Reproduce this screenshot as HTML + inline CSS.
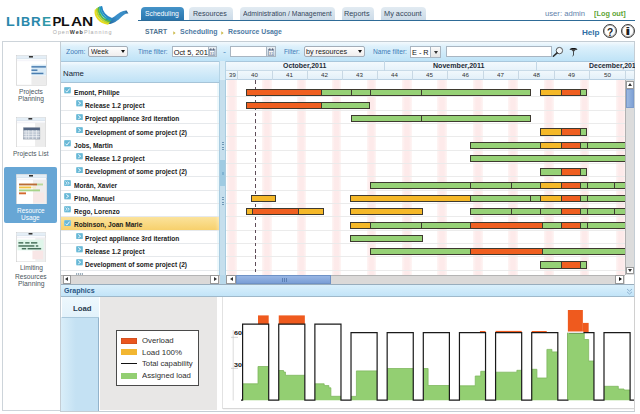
<!DOCTYPE html><html><head><meta charset="utf-8"><style>
*{margin:0;padding:0;box-sizing:border-box}
html,body{width:640px;height:414px;overflow:hidden;background:#fff;font-family:"Liberation Sans", sans-serif;}
.ab{position:absolute}
.t{position:absolute;white-space:nowrap;line-height:1}
</style></head><body>
<div class="t" style="left:6.14px;top:15.00px;font-size:13.3px;font-weight:bold;color:#2a88ab;transform:scaleX(1.0710);transform-origin:0 0;">L</div>
<div class="t" style="left:16.02px;top:15.00px;font-size:13.3px;font-weight:bold;color:#2a88ab;transform:scaleX(1.0889);transform-origin:0 0;">I</div>
<div class="t" style="left:21.05px;top:15.00px;font-size:13.3px;font-weight:bold;color:#2a88ab;transform:scaleX(0.9491);transform-origin:0 0;">B</div>
<div class="t" style="left:31.30px;top:15.00px;font-size:13.3px;font-weight:bold;color:#2a88ab;transform:scaleX(1.0065);transform-origin:0 0;">R</div>
<div class="t" style="left:41.98px;top:15.00px;font-size:13.3px;font-weight:bold;color:#2f98a8;transform:scaleX(1.0204);transform-origin:0 0;">E</div>
<div class="t" style="left:52.40px;top:15.00px;font-size:13.3px;font-weight:bold;color:#111;">P</div>
<div class="t" style="left:61.25px;top:15.00px;font-size:13.3px;font-weight:bold;color:#111;transform:scaleX(1.0563);transform-origin:0 0;">L</div>
<div class="t" style="left:70.51px;top:15.00px;font-size:13.3px;font-weight:bold;color:#111;transform:scaleX(1.1615);transform-origin:0 0;">A</div>
<div class="t" style="left:82.05px;top:15.00px;font-size:13.3px;font-weight:bold;color:#111;transform:scaleX(1.1646);transform-origin:0 0;">N</div>
<div class="t" style="left:52.74px;top:30.00px;font-size:5.4px;color:#000;letter-spacing:0.95px;"><span style="color:#a9a9a9">Open</span><span style="color:#3a3a3a;font-weight:bold">Web</span><span style="color:#a9a9a9">Planning</span></div>
<svg class="ab" style="left:88px;top:2px" width="44" height="26" viewBox="88 2 44 26">
<defs><linearGradient id="bg2" gradientUnits="userSpaceOnUse" x1="108" y1="22" x2="128" y2="11">
<stop offset="0" stop-color="#22679e"/><stop offset="0.45" stop-color="#3a90cc"/><stop offset="0.85" stop-color="#3a8cc4"/><stop offset="1" stop-color="#1f4f78"/></linearGradient></defs>
<path d="M106 23.9 C112 25 117 21.5 121.6 16.8 C123.8 14.6 125.8 13.2 128.4 13.6 L126.6 10.6 C122.4 10.4 118.4 13.4 114.4 16.4 C111.4 18.6 108.4 19.4 105 18.4 Z" fill="url(#bg2)"/>
<g fill="none" stroke-width="1.9" stroke-linecap="round">
<path d="M95.6 10.2 C94.6 16.5 99.6 22.6 108 23.7" stroke="#e8dc1c"/>
<path d="M97 8.9 C96.4 15 100.8 21.2 108.8 22.5" stroke="#bcd22a"/>
<path d="M98.5 7.9 C98.1 13.8 102.2 19.8 109.6 21.2" stroke="#5ab848"/>
<path d="M100 7.2 C99.9 12.6 103.7 18.4 110.6 20" stroke="#22a0b8"/>
<path d="M101.5 7 C101.7 11.5 105.2 17 111.8 18.8" stroke="#2a86c6"/>
</g>
</svg>
<div class="ab" style="left:141.2px;top:6.6px;width:42.60px;height:13.60px;background:linear-gradient(#4593c8,#2a76ae);border-radius:4px 4px 0 0;"></div>
<div class="t" style="left:144.69px;top:10.00px;font-size:7px;color:#fff;transform:scaleX(0.9740);transform-origin:0 0;">Scheduling</div>
<div class="ab" style="left:189.2px;top:7.1px;width:43.80px;height:13.10px;background:linear-gradient(#e2ebf2,#ccdbe8);border-radius:4px 4px 0 0;"></div>
<div class="t" style="left:192.52px;top:10.00px;font-size:7px;color:#34465a;transform:scaleX(1.0080);transform-origin:0 0;">Resources</div>
<div class="ab" style="left:239.7px;top:7.1px;width:95.30px;height:13.10px;background:linear-gradient(#e2ebf2,#ccdbe8);border-radius:4px 4px 0 0;"></div>
<div class="t" style="left:242.98px;top:10.00px;font-size:7px;color:#34465a;transform:scaleX(0.9727);transform-origin:0 0;">Administration / Management</div>
<div class="ab" style="left:341.6px;top:7.1px;width:32.80px;height:13.10px;background:linear-gradient(#e2ebf2,#ccdbe8);border-radius:4px 4px 0 0;"></div>
<div class="t" style="left:344.30px;top:10.00px;font-size:7px;color:#34465a;transform:scaleX(1.0424);transform-origin:0 0;">Reports</div>
<div class="ab" style="left:381px;top:7.1px;width:44.80px;height:13.10px;background:linear-gradient(#e2ebf2,#ccdbe8);border-radius:4px 4px 0 0;"></div>
<div class="t" style="left:383.89px;top:10.00px;font-size:7px;color:#34465a;transform:scaleX(1.0524);transform-origin:0 0;">My account</div>
<div class="ab" style="left:138px;top:19.6px;width:497.30px;height:1.40px;background:#2e6b97;"></div>
<div class="t" style="left:145.41px;top:28.00px;font-size:7px;font-weight:bold;color:#4f7390;transform:scaleX(0.9668);transform-origin:0 0;">START</div>
<svg class="ab" style="left:172.8px;top:30.6px" width="3" height="4" viewBox="0 0 3 4"><path d="M0.3 0.3 L2.6 2 L0.3 3.7Z" fill="#c9b640"/></svg>
<div class="t" style="left:180.21px;top:28.00px;font-size:7px;font-weight:bold;color:#4d7aa3;transform:scaleX(0.9955);transform-origin:0 0;">Scheduling</div>
<svg class="ab" style="left:220.6px;top:30.6px" width="3" height="4" viewBox="0 0 3 4"><path d="M0.3 0.3 L2.6 2 L0.3 3.7Z" fill="#c9b640"/></svg>
<div class="t" style="left:228.04px;top:28.00px;font-size:7px;font-weight:bold;color:#4d7aa3;transform:scaleX(0.9825);transform-origin:0 0;">Resource Usage</div>
<div class="t" style="left:544.70px;top:10.00px;font-size:7px;color:#5f83ab;transform:scaleX(1.0935);transform-origin:0 0;">user: admin</div>
<div class="t" style="left:594.30px;top:10.00px;font-size:7px;font-weight:bold;color:#5ea534;transform:scaleX(1.0460);transform-origin:0 0;">[Log out]</div>
<div class="t" style="left:582.45px;top:30.00px;font-size:6.8px;font-weight:bold;color:#2f6ea5;transform:scaleX(1.1936);transform-origin:0 0;">Help</div>
<div class="ab" style="left:602.8px;top:24.4px;width:14.1px;height:14.1px;border:1.9px solid #3c3c3c;border-radius:50%;background:radial-gradient(circle at 45% 40%,#fff 45%,#d8d8d8);box-shadow:inset 0 0 0 0.6px #9a9a9a"></div>
<div class="ab" style="left:621.1px;top:24.4px;width:14.1px;height:14.1px;border:1.9px solid #3c3c3c;border-radius:50%;background:radial-gradient(circle at 45% 40%,#fff 45%,#d8d8d8);box-shadow:inset 0 0 0 0.6px #9a9a9a"></div>
<div class="t" style="left:606.94px;top:27.00px;font-size:10.5px;font-weight:bold;color:#1e1e1e;transform:scaleX(0.9711);transform-origin:0 0;">?</div>
<div class="t" style="left:624.87px;top:26.00px;font-size:10.5px;font-weight:bold;color:#1e1e1e;transform:scaleX(1.9394);transform-origin:0 0;">i</div>
<div class="ab" style="left:2px;top:41.1px;width:59.00px;height:370.30px;border:1px solid #cdd4da;background:#fff;"></div>
<div class="ab" style="left:4.2px;top:166.9px;width:52.90px;height:55.90px;background:#67a6d5;border-radius:2px;"></div>
<svg class="ab" style="left:16.2px;top:55.2px" width="30.9" height="30.5" viewBox="0 0 31 31" preserveAspectRatio="none"><rect x="0.3" y="0.3" width="30.4" height="30.4" fill="#fff" stroke="#c8c8c8" stroke-width="0.6"/><rect x="0.6" y="0.6" width="29.8" height="3.2" fill="#e4eef6"/><rect x="13" y="1" width="4" height="1.6" fill="#333"/><line x1="0.6" y1="3.8" x2="30.4" y2="3.8" stroke="#bcd" stroke-width="0.4"/><line x1="0.6" y1="5.8" x2="30.4" y2="5.8" stroke="#dde" stroke-width="0.4"/><rect x="15.5" y="21" width="14.9" height="9.4" fill="#ececec"/><rect x="15.5" y="9.8" width="14.9" height="11" fill="#d9eaf6"/><rect x="15.5" y="11.3" width="14.5" height="1.5" fill="#4a7db0"/><rect x="15.5" y="14.7" width="6" height="1.5" fill="#4a7db0"/><rect x="15.5" y="18" width="12" height="1.5" fill="#4a7db0"/></svg>
<svg class="ab" style="left:16px;top:117px" width="29.6" height="30.4" viewBox="0 0 31 31" preserveAspectRatio="none"><rect x="0.3" y="0.3" width="30.4" height="30.4" fill="#fff" stroke="#c8c8c8" stroke-width="0.6"/><rect x="0.6" y="0.6" width="29.8" height="3.2" fill="#e4eef6"/><rect x="13" y="1" width="4" height="1.6" fill="#333"/><line x1="0.6" y1="3.8" x2="30.4" y2="3.8" stroke="#bcd" stroke-width="0.4"/><line x1="0.6" y1="5.8" x2="30.4" y2="5.8" stroke="#dde" stroke-width="0.4"/><rect x="20" y="6" width="10.4" height="24.4" fill="#ececec"/><rect x="8" y="11" width="17" height="11.5" fill="#b9c3d0" stroke="#7a8594" stroke-width="0.5"/><rect x="8" y="11" width="17" height="2.4" fill="#536582"/><line x1="8" y1="15.2" x2="25" y2="15.2" stroke="#f4f6f8" stroke-width="0.7"/><line x1="8" y1="17.6" x2="25" y2="17.6" stroke="#f4f6f8" stroke-width="0.7"/><line x1="8" y1="20" x2="25" y2="20" stroke="#f4f6f8" stroke-width="0.7"/><line x1="10.6" y1="13.4" x2="10.6" y2="22.5" stroke="#f4f6f8" stroke-width="0.7"/><line x1="13.4" y1="13.4" x2="13.4" y2="22.5" stroke="#f4f6f8" stroke-width="0.7"/><line x1="17.6" y1="13.4" x2="17.6" y2="22.5" stroke="#f4f6f8" stroke-width="0.7"/><line x1="21.4" y1="13.4" x2="21.4" y2="22.5" stroke="#f4f6f8" stroke-width="0.7"/></svg>
<svg class="ab" style="left:16px;top:173.5px" width="31.0" height="30.5" viewBox="0 0 31 31" preserveAspectRatio="none"><rect x="0.3" y="0.3" width="30.4" height="30.4" fill="#fff" stroke="#c8c8c8" stroke-width="0.6"/><rect x="0.6" y="0.6" width="29.8" height="3.2" fill="#e4eef6"/><rect x="13" y="1" width="4" height="1.6" fill="#333"/><line x1="0.6" y1="3.8" x2="30.4" y2="3.8" stroke="#bcd" stroke-width="0.4"/><line x1="0.6" y1="5.8" x2="30.4" y2="5.8" stroke="#dde" stroke-width="0.4"/><rect x="17" y="6" width="13.4" height="24.4" fill="#efeded"/><rect x="17" y="19" width="11" height="10" fill="#f7e8e6"/><rect x="3" y="9.7" width="18" height="1.9" fill="#b96c34"/><rect x="21" y="9.7" width="6" height="1.9" fill="#b9d99a"/><rect x="3" y="12.7" width="12" height="1.9" fill="#f0c244"/><rect x="15" y="12.7" width="5" height="1.9" fill="#f6ecc4"/><rect x="3" y="15.7" width="21" height="1.9" fill="#a6d488"/><rect x="3" y="18.7" width="7" height="1.9" fill="#d4692e"/></svg>
<svg class="ab" style="left:16.4px;top:232px" width="30.0" height="30.2" viewBox="0 0 31 31" preserveAspectRatio="none"><rect x="0.3" y="0.3" width="30.4" height="30.4" fill="#fff" stroke="#c8c8c8" stroke-width="0.6"/><rect x="0.6" y="0.6" width="29.8" height="3.2" fill="#e4eef6"/><rect x="13" y="1" width="4" height="1.6" fill="#333"/><line x1="0.6" y1="3.8" x2="30.4" y2="3.8" stroke="#bcd" stroke-width="0.4"/><line x1="0.6" y1="5.8" x2="30.4" y2="5.8" stroke="#dde" stroke-width="0.4"/><rect x="20" y="6" width="10.4" height="24.4" fill="#efefef"/><rect x="17" y="19" width="11" height="9" fill="#f8e6e6"/><rect x="1.5" y="7.8" width="27" height="11" fill="#dff6ea"/><rect x="2.5" y="10.4" width="5" height="1.5" fill="#46705a"/><rect x="9.5" y="10.4" width="4.5" height="1.5" fill="#46705a"/><rect x="15.5" y="10.4" width="6.5" height="1.5" fill="#46705a"/><rect x="2.5" y="13.6" width="16.5" height="1.5" fill="#46705a"/><rect x="20.5" y="13.6" width="2.5" height="1.5" fill="#46705a"/><rect x="6" y="16.4" width="4.5" height="1.5" fill="#46705a"/><rect x="12" y="16.4" width="14" height="1.5" fill="#46705a"/></svg>
<div class="t" style="left:19.15px;top:89.00px;font-size:6.4px;color:#4c5660;transform:scaleX(1.0327);transform-origin:0 0;">Projects</div>
<div class="t" style="left:18.35px;top:96.00px;font-size:6.4px;color:#4c5660;transform:scaleX(1.0431);transform-origin:0 0;">Planning</div>
<div class="t" style="left:12.66px;top:151.00px;font-size:6.4px;color:#4c5660;transform:scaleX(1.0183);transform-origin:0 0;">Projects List</div>
<div class="t" style="left:16.67px;top:208.00px;font-size:6.4px;color:#fff;transform:scaleX(1.0122);transform-origin:0 0;">Resource</div>
<div class="t" style="left:21.20px;top:215.00px;font-size:6.4px;color:#fff;transform:scaleX(1.0097);transform-origin:0 0;">Usage</div>
<div class="t" style="left:19.55px;top:265.00px;font-size:6.4px;color:#4c5660;transform:scaleX(1.0369);transform-origin:0 0;">Limiting</div>
<div class="t" style="left:15.25px;top:274.00px;font-size:6.4px;color:#4c5660;transform:scaleX(1.0355);transform-origin:0 0;">Resources</div>
<div class="t" style="left:17.94px;top:281.00px;font-size:6.4px;color:#4c5660;transform:scaleX(1.0681);transform-origin:0 0;">Planning</div>
<div class="ab" style="left:60px;top:41.1px;width:575.30px;height:370.50px;border:1px solid #c4cdd4;background:#fff;"></div>
<div class="ab" style="left:61px;top:41.6px;width:573.30px;height:19.00px;background:linear-gradient(#f3f9fd,#dcf0fb 25%,#bfe3f7);"></div>
<div class="t" style="left:65.59px;top:48.00px;font-size:7px;color:#3d7cb8;transform:scaleX(0.9796);transform-origin:0 0;">Zoom:</div>
<div class="ab" style="left:88.3px;top:46.2px;width:39.90px;height:10.90px;background:linear-gradient(#fefefe,#f0eeee);border:1px solid #a3adb8;border-radius:2px;"></div>
<div class="t" style="left:91.47px;top:48.00px;font-size:7px;color:#1a1a1a;transform:scaleX(0.9804);transform-origin:0 0;">Week</div>
<div class="ab" style="left:120.9px;top:50px;width:0;height:0;border-top:3.8px solid #111;border-left:2.3px solid transparent;border-right:2.3px solid transparent"></div>
<div class="t" style="left:137.66px;top:48.00px;font-size:7px;color:#3d7cb8;transform:scaleX(0.9127);transform-origin:0 0;">Time filter:</div>
<div class="ab" style="left:172.3px;top:46px;width:35.70px;height:11.40px;background:#fff;border:1px solid #a9b6c2;border-right:none;"></div>
<div class="ab" style="left:172.3px;top:46px;width:35.7px;height:11.4px;overflow:hidden">
<div class="t" style="left:1.35px;top:2.71px;font-size:7.4px;color:#111">Oct 5, 2011</div>
</div>
<div class="ab" style="left:208px;top:46px;width:8.70px;height:11.40px;background:linear-gradient(#e9eff4,#cbd7e1);border:1px solid #a9b6c2;"></div>
<svg class="ab" style="left:209.2px;top:47.6px" width="6.4" height="8" viewBox="0 0 6.4 8"><rect x="0.5" y="1.3" width="5.4" height="6.3" fill="#f4f6f8" stroke="#7186a0" stroke-width="0.6"/><rect x="0.5" y="1.3" width="5.4" height="1.5" fill="#8a9cb4"/><line x1="1.8" y1="0.2" x2="1.8" y2="2.2" stroke="#445" stroke-width="0.7"/><line x1="4.6" y1="0.2" x2="4.6" y2="2.2" stroke="#445" stroke-width="0.7"/><text x="3.2" y="6.9" font-size="3.8" text-anchor="middle" fill="#4a5a78" font-family="Liberation Sans">31</text></svg>
<div class="t" style="left:223.20px;top:48.00px;font-size:7px;color:#3d7cb8;transform:scaleX(1.2828);transform-origin:0 0;">-</div>
<div class="ab" style="left:229.7px;top:46px;width:36.00px;height:11.40px;background:#fff;border:1px solid #a9b6c2;border-right:none;"></div>
<div class="ab" style="left:265.7px;top:46px;width:10.30px;height:11.40px;background:linear-gradient(#e9eff4,#cbd7e1);border:1px solid #a9b6c2;"></div>
<svg class="ab" style="left:267.7px;top:47.6px" width="6.4" height="8" viewBox="0 0 6.4 8"><rect x="0.5" y="1.3" width="5.4" height="6.3" fill="#f4f6f8" stroke="#7186a0" stroke-width="0.6"/><rect x="0.5" y="1.3" width="5.4" height="1.5" fill="#8a9cb4"/><line x1="1.8" y1="0.2" x2="1.8" y2="2.2" stroke="#445" stroke-width="0.7"/><line x1="4.6" y1="0.2" x2="4.6" y2="2.2" stroke="#445" stroke-width="0.7"/><text x="3.2" y="6.9" font-size="3.8" text-anchor="middle" fill="#4a5a78" font-family="Liberation Sans">31</text></svg>
<div class="t" style="left:283.58px;top:48.00px;font-size:7px;color:#3d7cb8;transform:scaleX(0.9023);transform-origin:0 0;">Filter:</div>
<div class="ab" style="left:303.5px;top:46px;width:61.90px;height:11.40px;background:linear-gradient(#fefefe,#f0eeee);border:1px solid #a3adb8;border-radius:2px;"></div>
<div class="t" style="left:305.83px;top:48.00px;font-size:7px;color:#1a1a1a;transform:scaleX(1.0235);transform-origin:0 0;">by resources</div>
<div class="ab" style="left:357.9px;top:50px;width:0;height:0;border-top:3.8px solid #111;border-left:2.3px solid transparent;border-right:2.3px solid transparent"></div>
<div class="t" style="left:373.25px;top:48.00px;font-size:7px;color:#3d7cb8;transform:scaleX(0.9485);transform-origin:0 0;">Name filter:</div>
<div class="ab" style="left:410.3px;top:46px;width:20.30px;height:12.00px;background:#fff;border:1px solid #a9b6c2;"></div>
<div class="t" style="left:412.20px;top:49.00px;font-size:7.6px;color:#111;transform:scaleX(0.9620);transform-origin:0 0;">E - R</div>
<div class="ab" style="left:430.4px;top:46px;width:10.50px;height:12.00px;background:linear-gradient(#fbfbfb,#e4e4e4);border:1px solid #a9b6c2;"></div>
<div class="ab" style="left:433.8px;top:50.6px;width:0;height:0;border-top:3.2px solid #333;border-left:2px solid transparent;border-right:2px solid transparent"></div>
<div class="ab" style="left:446px;top:45.6px;width:105.90px;height:11.30px;background:#fff;border:1px solid #a9b6c2;"></div>
<svg class="ab" style="left:552px;top:46px" width="12" height="11" viewBox="0 0 12 11"><circle cx="7.4" cy="4.6" r="3.2" fill="#f2f8fc" stroke="#4a4a4a" stroke-width="0.9"/><line x1="5.1" y1="6.9" x2="1.4" y2="10.2" stroke="#2a2a2a" stroke-width="1.5" stroke-linecap="round"/></svg>
<svg class="ab" style="left:569px;top:47px" width="9" height="10" viewBox="0 0 9 10"><path d="M0.5 2.4 C2 0.5 7 0.5 8.5 2.4 C7 3 2 3 0.5 2.4Z" fill="#111"/><path d="M2 2.6 L4.5 5 L7 2.6Z" fill="#444"/><line x1="4.5" y1="4.5" x2="4.5" y2="8.4" stroke="#222" stroke-width="0.8"/><path d="M4.5 8.4 Q4 9.7 3.1 8.8" fill="none" stroke="#444" stroke-width="0.6"/></svg>
<div class="ab" style="left:61px;top:60.6px;width:158.60px;height:22.80px;background:linear-gradient(#f4fafe,#e0f1fb 20%,#bfe2f6);border-top:1px solid #a9c7dc;border-bottom:1px solid #a6c4d8;"></div>
<div class="t" style="left:63.26px;top:70.00px;font-size:7px;color:#142433;transform:scaleX(1.1153);transform-origin:0 0;">Name</div>
<div class="ab" style="left:216.6px;top:83.3px;width:3.00px;height:191.30px;background:#ecf8fc;"></div>
<div class="ab" style="left:61px;top:83px;width:158.6px;height:191.6px;overflow:hidden">
<div class="ab" style="left:0px;top:13.200000000000003px;width:158.60px;height:0.90px;background:#e6e9ec"></div>
<svg class="ab" style="left:3.3px;top:4.10px" width="7" height="6.5" viewBox="0 0 7 6.5"><rect x="0" y="0" width="7" height="6.5" rx="1" fill="#93cee2"/><rect x="0.6" y="0.6" width="5.8" height="5.3" rx="0.8" fill="#68b8d6"/><path d="M1.5 3.8 L2.9 5 L5.6 1.6" fill="none" stroke="#eaf8ff" stroke-width="1"/></svg>
<div class="t" style="left:12.84px;top:7.00px;font-size:6.8px;font-weight:bold;color:#1b1b1b;transform:scaleX(0.968);transform-origin:0 0;">Emont, Philipe</div>
<div class="ab" style="left:0px;top:26.539999999999992px;width:158.60px;height:0.90px;background:#e6e9ec"></div>
<svg class="ab" style="left:15.2px;top:17.35px" width="7" height="6.5" viewBox="0 0 7 6.5"><rect x="0" y="0" width="7" height="6.5" rx="1" fill="#93cee2"/><rect x="0.6" y="0.6" width="5.8" height="5.3" rx="0.8" fill="#68b8d6"/><path d="M2.3 1.5 L4.7 3.2 L2.3 4.9" fill="none" stroke="#eaf8ff" stroke-width="1"/></svg>
<div class="t" style="left:24.44px;top:20.00px;font-size:6.8px;font-weight:bold;color:#1b1b1b;transform:scaleX(0.968);transform-origin:0 0;">Release 1.2 project</div>
<div class="ab" style="left:0px;top:39.879999999999995px;width:158.60px;height:0.90px;background:#e6e9ec"></div>
<svg class="ab" style="left:15.2px;top:30.60px" width="7" height="6.5" viewBox="0 0 7 6.5"><rect x="0" y="0" width="7" height="6.5" rx="1" fill="#93cee2"/><rect x="0.6" y="0.6" width="5.8" height="5.3" rx="0.8" fill="#68b8d6"/><path d="M2.3 1.5 L4.7 3.2 L2.3 4.9" fill="none" stroke="#eaf8ff" stroke-width="1"/></svg>
<div class="t" style="left:24.44px;top:33.00px;font-size:6.8px;font-weight:bold;color:#1b1b1b;transform:scaleX(0.968);transform-origin:0 0;">Project appliance 3rd iteration</div>
<div class="ab" style="left:0px;top:53.22px;width:158.60px;height:0.90px;background:#e6e9ec"></div>
<svg class="ab" style="left:15.2px;top:43.85px" width="7" height="6.5" viewBox="0 0 7 6.5"><rect x="0" y="0" width="7" height="6.5" rx="1" fill="#93cee2"/><rect x="0.6" y="0.6" width="5.8" height="5.3" rx="0.8" fill="#68b8d6"/><path d="M2.3 1.5 L4.7 3.2 L2.3 4.9" fill="none" stroke="#eaf8ff" stroke-width="1"/></svg>
<div class="t" style="left:24.44px;top:47.00px;font-size:6.8px;font-weight:bold;color:#1b1b1b;transform:scaleX(0.968);transform-origin:0 0;">Development of some project (2)</div>
<div class="ab" style="left:0px;top:66.56px;width:158.60px;height:0.90px;background:#e6e9ec"></div>
<svg class="ab" style="left:3.3px;top:57.10px" width="7" height="6.5" viewBox="0 0 7 6.5"><rect x="0" y="0" width="7" height="6.5" rx="1" fill="#93cee2"/><rect x="0.6" y="0.6" width="5.8" height="5.3" rx="0.8" fill="#68b8d6"/><path d="M1.5 3.8 L2.9 5 L5.6 1.6" fill="none" stroke="#eaf8ff" stroke-width="1"/></svg>
<div class="t" style="left:13.20px;top:60.00px;font-size:6.8px;font-weight:bold;color:#1b1b1b;transform:scaleX(0.968);transform-origin:0 0;">Jobs, Martin</div>
<div class="ab" style="left:0px;top:79.89999999999998px;width:158.60px;height:0.90px;background:#e6e9ec"></div>
<svg class="ab" style="left:15.2px;top:70.35px" width="7" height="6.5" viewBox="0 0 7 6.5"><rect x="0" y="0" width="7" height="6.5" rx="1" fill="#93cee2"/><rect x="0.6" y="0.6" width="5.8" height="5.3" rx="0.8" fill="#68b8d6"/><path d="M2.3 1.5 L4.7 3.2 L2.3 4.9" fill="none" stroke="#eaf8ff" stroke-width="1"/></svg>
<div class="t" style="left:24.44px;top:73.00px;font-size:6.8px;font-weight:bold;color:#1b1b1b;transform:scaleX(0.968);transform-origin:0 0;">Release 1.2 project</div>
<div class="ab" style="left:0px;top:93.24000000000001px;width:158.60px;height:0.90px;background:#e6e9ec"></div>
<svg class="ab" style="left:15.2px;top:83.60px" width="7" height="6.5" viewBox="0 0 7 6.5"><rect x="0" y="0" width="7" height="6.5" rx="1" fill="#93cee2"/><rect x="0.6" y="0.6" width="5.8" height="5.3" rx="0.8" fill="#68b8d6"/><path d="M2.3 1.5 L4.7 3.2 L2.3 4.9" fill="none" stroke="#eaf8ff" stroke-width="1"/></svg>
<div class="t" style="left:24.44px;top:86.00px;font-size:6.8px;font-weight:bold;color:#1b1b1b;transform:scaleX(0.968);transform-origin:0 0;">Development of some project (2)</div>
<div class="ab" style="left:0px;top:106.57999999999998px;width:158.60px;height:0.90px;background:#e6e9ec"></div>
<svg class="ab" style="left:3.3px;top:96.85px" width="7" height="6.5" viewBox="0 0 7 6.5"><rect x="0" y="0" width="7" height="6.5" rx="1" fill="#93cee2"/><rect x="0.6" y="0.6" width="5.8" height="5.3" rx="0.8" fill="#68b8d6"/><path d="M1.4 1.6 L3.2 3.2 L1.4 4.8 M3.5 1.6 L5.3 3.2 L3.5 4.8" fill="none" stroke="#eaf8ff" stroke-width="0.85"/></svg>
<div class="t" style="left:12.84px;top:100.00px;font-size:6.8px;font-weight:bold;color:#1b1b1b;transform:scaleX(0.968);transform-origin:0 0;">Morán, Xavier</div>
<div class="ab" style="left:0px;top:119.92000000000002px;width:158.60px;height:0.90px;background:#e6e9ec"></div>
<svg class="ab" style="left:3.3px;top:110.10px" width="7" height="6.5" viewBox="0 0 7 6.5"><rect x="0" y="0" width="7" height="6.5" rx="1" fill="#93cee2"/><rect x="0.6" y="0.6" width="5.8" height="5.3" rx="0.8" fill="#68b8d6"/><path d="M2.3 1.5 L4.7 3.2 L2.3 4.9" fill="none" stroke="#eaf8ff" stroke-width="1"/></svg>
<div class="t" style="left:12.84px;top:113.00px;font-size:6.8px;font-weight:bold;color:#1b1b1b;transform:scaleX(0.968);transform-origin:0 0;">Pino, Manuel</div>
<div class="ab" style="left:0px;top:133.26px;width:158.60px;height:0.90px;background:#e6e9ec"></div>
<svg class="ab" style="left:3.3px;top:123.35px" width="7" height="6.5" viewBox="0 0 7 6.5"><rect x="0" y="0" width="7" height="6.5" rx="1" fill="#93cee2"/><rect x="0.6" y="0.6" width="5.8" height="5.3" rx="0.8" fill="#68b8d6"/><path d="M1.4 1.6 L3.2 3.2 L1.4 4.8 M3.5 1.6 L5.3 3.2 L3.5 4.8" fill="none" stroke="#eaf8ff" stroke-width="0.85"/></svg>
<div class="t" style="left:12.84px;top:126.00px;font-size:6.8px;font-weight:bold;color:#1b1b1b;transform:scaleX(0.968);transform-origin:0 0;">Rego, Lorenzo</div>
<div class="ab" style="left:0px;top:133.56px;width:158.60px;height:13.14px;background:linear-gradient(90deg,rgba(255,255,255,0) 97%,rgba(255,255,255,0.35)),linear-gradient(#fbe39c,#f7d06c)"></div>
<div class="ab" style="left:0px;top:146.60000000000002px;width:158.60px;height:0.90px;background:#e6e9ec"></div>
<svg class="ab" style="left:3.3px;top:136.60px" width="7" height="6.5" viewBox="0 0 7 6.5"><rect x="0" y="0" width="7" height="6.5" rx="1" fill="#93cee2"/><rect x="0.6" y="0.6" width="5.8" height="5.3" rx="0.8" fill="#68b8d6"/><path d="M1.5 3.8 L2.9 5 L5.6 1.6" fill="none" stroke="#eaf8ff" stroke-width="1"/></svg>
<div class="t" style="left:12.84px;top:139.00px;font-size:6.8px;font-weight:bold;color:#1b1b1b;transform:scaleX(0.968);transform-origin:0 0;">Robinson, Joan Marie</div>
<div class="ab" style="left:0px;top:159.94px;width:158.60px;height:0.90px;background:#e6e9ec"></div>
<svg class="ab" style="left:15.2px;top:149.85px" width="7" height="6.5" viewBox="0 0 7 6.5"><rect x="0" y="0" width="7" height="6.5" rx="1" fill="#93cee2"/><rect x="0.6" y="0.6" width="5.8" height="5.3" rx="0.8" fill="#68b8d6"/><path d="M2.3 1.5 L4.7 3.2 L2.3 4.9" fill="none" stroke="#eaf8ff" stroke-width="1"/></svg>
<div class="t" style="left:24.44px;top:153.00px;font-size:6.8px;font-weight:bold;color:#1b1b1b;transform:scaleX(0.968);transform-origin:0 0;">Project appliance 3rd iteration</div>
<div class="ab" style="left:0px;top:173.27999999999997px;width:158.60px;height:0.90px;background:#e6e9ec"></div>
<svg class="ab" style="left:15.2px;top:163.10px" width="7" height="6.5" viewBox="0 0 7 6.5"><rect x="0" y="0" width="7" height="6.5" rx="1" fill="#93cee2"/><rect x="0.6" y="0.6" width="5.8" height="5.3" rx="0.8" fill="#68b8d6"/><path d="M2.3 1.5 L4.7 3.2 L2.3 4.9" fill="none" stroke="#eaf8ff" stroke-width="1"/></svg>
<div class="t" style="left:24.44px;top:166.00px;font-size:6.8px;font-weight:bold;color:#1b1b1b;transform:scaleX(0.968);transform-origin:0 0;">Release 1.2 project</div>
<div class="ab" style="left:0px;top:186.62px;width:158.60px;height:0.90px;background:#e6e9ec"></div>
<svg class="ab" style="left:15.2px;top:176.35px" width="7" height="6.5" viewBox="0 0 7 6.5"><rect x="0" y="0" width="7" height="6.5" rx="1" fill="#93cee2"/><rect x="0.6" y="0.6" width="5.8" height="5.3" rx="0.8" fill="#68b8d6"/><path d="M2.3 1.5 L4.7 3.2 L2.3 4.9" fill="none" stroke="#eaf8ff" stroke-width="1"/></svg>
<div class="t" style="left:24.44px;top:179.00px;font-size:6.8px;font-weight:bold;color:#1b1b1b;transform:scaleX(0.968);transform-origin:0 0;">Development of some project (2)</div>
<div class="ab" style="left:0px;top:199.95999999999998px;width:158.60px;height:0.90px;background:#e6e9ec"></div>
<div class="ab" style="left:15.200000000000003px;top:190px;width:6.50px;height:1.60px;background:repeating-linear-gradient(90deg,#9fb0bc 0 1px,#e8eef2 1px 2px)"></div>
</div>
<div class="ab" style="left:219.4px;top:60.6px;width:6.50px;height:223.70px;background:#c6dfed;border-left:1px solid #a9cce0;border-right:1px solid #a9cce0;"></div>
<div class="ab" style="left:219.4px;top:60.6px;width:6.50px;height:19.40px;background:#d9ecf6;border-left:1px solid #b5d4e6;border-right:1px solid #b5d4e6;"></div>
<div class="ab" style="left:220.4px;top:160.1px;width:4.80px;height:26.40px;background:#9fcbe2;"></div>
<div class="ab" style="left:221.6px;top:171.5px;width:2.40px;height:3.00px;background:#7fb3d2;"></div>
<div class="ab" style="left:221.8px;top:141.5px;width:1.80px;height:1.20px;background:#6f97b5;"></div>
<div class="ab" style="left:221.8px;top:144px;width:1.80px;height:1.20px;background:#6f97b5;"></div>
<div class="ab" style="left:221.8px;top:146.5px;width:1.80px;height:1.20px;background:#6f97b5;"></div>
<div class="ab" style="left:221.8px;top:149px;width:1.80px;height:1.20px;background:#6f97b5;"></div>
<div class="ab" style="left:221.8px;top:196.5px;width:1.80px;height:1.20px;background:#6f97b5;"></div>
<div class="ab" style="left:221.8px;top:199px;width:1.80px;height:1.20px;background:#6f97b5;"></div>
<div class="ab" style="left:221.8px;top:201.5px;width:1.80px;height:1.20px;background:#6f97b5;"></div>
<div class="ab" style="left:221.8px;top:204px;width:1.80px;height:1.20px;background:#6f97b5;"></div>
<div class="ab" style="left:226px;top:60.6px;width:408.30px;height:10.00px;background:linear-gradient(#f3f9fd,#e6f2fa);border-top:1px solid #a9c7dc;border-bottom:1px solid #c9dbe8;"></div>
<div class="ab" style="left:226px;top:70.6px;width:408.30px;height:9.40px;background:linear-gradient(#f1f8fc,#e3f0f9);border-bottom:1px solid #b9d0e2;"></div>
<div class="ab" style="left:383.5px;top:60.6px;width:0.80px;height:10.00px;background:#c3d7e6;"></div>
<div class="ab" style="left:535.8px;top:60.6px;width:0.80px;height:10.00px;background:#c3d7e6;"></div>
<div class="ab" style="left:226px;top:60px;width:408.6px;height:10.6px;overflow:hidden">
<div class="t" style="left:57.22px;top:3.00px;font-size:6.8px;font-weight:bold;color:#1e2a36;transform:scaleX(1.0226);transform-origin:0 0;">October,2011</div>
<div class="t" style="left:207.32px;top:3.00px;font-size:6.8px;font-weight:bold;color:#1e2a36;transform:scaleX(1.0395);transform-origin:0 0;">November,2011</div>
<div class="t" style="left:363.33px;top:3.00px;font-size:6.8px;font-weight:bold;color:#1e2a36;transform:scaleX(1.0221);transform-origin:0 0;">December,2011</div>
</div>
<div class="ab" style="left:226px;top:70px;width:399.3px;height:10px;overflow:hidden">
<div class="ab" style="left:-24.20px;top:0.6px;width:0.8px;height:9.4px;background:#c8d8e4"></div>
<div class="t" style="left:2.77px;top:2.00px;font-size:6px;color:#333;transform:scaleX(1.0138);transform-origin:0 0;">39</div>
<div class="ab" style="left:11.10px;top:0.6px;width:0.8px;height:9.4px;background:#c8d8e4"></div>
<div class="t" style="left:25.26px;top:2.00px;font-size:6px;color:#333;transform:scaleX(1.0317);transform-origin:0 0;">40</div>
<div class="ab" style="left:46.20px;top:0.6px;width:0.8px;height:9.4px;background:#c8d8e4"></div>
<div class="t" style="left:60.01px;top:2.00px;font-size:6px;color:#333;transform:scaleX(1.0417);transform-origin:0 0;">41</div>
<div class="ab" style="left:80.60px;top:0.6px;width:0.8px;height:9.4px;background:#c8d8e4"></div>
<div class="t" style="left:94.71px;top:2.00px;font-size:6px;color:#333;transform:scaleX(1.0417);transform-origin:0 0;">42</div>
<div class="ab" style="left:115.60px;top:0.6px;width:0.8px;height:9.4px;background:#c8d8e4"></div>
<div class="t" style="left:129.76px;top:2.00px;font-size:6px;color:#333;transform:scaleX(1.0367);transform-origin:0 0;">43</div>
<div class="ab" style="left:150.70px;top:0.6px;width:0.8px;height:9.4px;background:#c8d8e4"></div>
<div class="t" style="left:165.01px;top:2.00px;font-size:6px;color:#333;transform:scaleX(1.0220);transform-origin:0 0;">44</div>
<div class="ab" style="left:186.10px;top:0.6px;width:0.8px;height:9.4px;background:#c8d8e4"></div>
<div class="t" style="left:200.26px;top:2.00px;font-size:6px;color:#333;transform:scaleX(1.0342);transform-origin:0 0;">45</div>
<div class="ab" style="left:221.20px;top:0.6px;width:0.8px;height:9.4px;background:#c8d8e4"></div>
<div class="t" style="left:235.86px;top:2.00px;font-size:6px;color:#333;transform:scaleX(1.0367);transform-origin:0 0;">46</div>
<div class="ab" style="left:257.30px;top:0.6px;width:0.8px;height:9.4px;background:#c8d8e4"></div>
<div class="t" style="left:271.41px;top:2.00px;font-size:6px;color:#333;transform:scaleX(1.0417);transform-origin:0 0;">47</div>
<div class="ab" style="left:292.30px;top:0.6px;width:0.8px;height:9.4px;background:#c8d8e4"></div>
<div class="t" style="left:306.91px;top:2.00px;font-size:6px;color:#333;transform:scaleX(1.0367);transform-origin:0 0;">48</div>
<div class="ab" style="left:328.30px;top:0.6px;width:0.8px;height:9.4px;background:#c8d8e4"></div>
<div class="t" style="left:342.46px;top:2.00px;font-size:6px;color:#333;transform:scaleX(1.0392);transform-origin:0 0;">49</div>
<div class="ab" style="left:363.40px;top:0.6px;width:0.8px;height:9.4px;background:#c8d8e4"></div>
<div class="t" style="left:378.15px;top:2.00px;font-size:6px;color:#333;transform:scaleX(1.0492);transform-origin:0 0;">50</div>
<div class="ab" style="left:399.90px;top:0.6px;width:0.8px;height:9.4px;background:#c8d8e4"></div>
<div class="t" style="left:414.05px;top:2.00px;font-size:6px;color:#333;transform:scaleX(1.0595);transform-origin:0 0;">51</div>
</div>
<div class="ab" style="left:625.3px;top:70.6px;width:9.00px;height:9.40px;border-left:1px solid #c8d8e4;"></div>
<div class="ab" style="left:226px;top:80px;width:399.3px;height:194.6px;overflow:hidden;background:#fff">
<div class="ab" style="left:1.20px;top:0;width:9.7px;height:100%;background:linear-gradient(90deg,#fef5f4,#fdeaea 30%,#fdeaea 70%,#fef5f4)"></div>
<div class="ab" style="left:36.30px;top:0;width:9.7px;height:100%;background:linear-gradient(90deg,#fef5f4,#fdeaea 30%,#fdeaea 70%,#fef5f4)"></div>
<div class="ab" style="left:70.70px;top:0;width:9.7px;height:100%;background:linear-gradient(90deg,#fef5f4,#fdeaea 30%,#fdeaea 70%,#fef5f4)"></div>
<div class="ab" style="left:105.70px;top:0;width:9.7px;height:100%;background:linear-gradient(90deg,#fef5f4,#fdeaea 30%,#fdeaea 70%,#fef5f4)"></div>
<div class="ab" style="left:140.80px;top:0;width:9.7px;height:100%;background:linear-gradient(90deg,#fef5f4,#fdeaea 30%,#fdeaea 70%,#fef5f4)"></div>
<div class="ab" style="left:176.20px;top:0;width:9.7px;height:100%;background:linear-gradient(90deg,#fef5f4,#fdeaea 30%,#fdeaea 70%,#fef5f4)"></div>
<div class="ab" style="left:211.30px;top:0;width:9.7px;height:100%;background:linear-gradient(90deg,#fef5f4,#fdeaea 30%,#fdeaea 70%,#fef5f4)"></div>
<div class="ab" style="left:247.40px;top:0;width:9.7px;height:100%;background:linear-gradient(90deg,#fef5f4,#fdeaea 30%,#fdeaea 70%,#fef5f4)"></div>
<div class="ab" style="left:282.40px;top:0;width:9.7px;height:100%;background:linear-gradient(90deg,#fef5f4,#fdeaea 30%,#fdeaea 70%,#fef5f4)"></div>
<div class="ab" style="left:318.40px;top:0;width:9.7px;height:100%;background:linear-gradient(90deg,#fef5f4,#fdeaea 30%,#fdeaea 70%,#fef5f4)"></div>
<div class="ab" style="left:353.50px;top:0;width:9.7px;height:100%;background:linear-gradient(90deg,#fef5f4,#fdeaea 30%,#fdeaea 70%,#fef5f4)"></div>
<div class="ab" style="left:390.00px;top:0;width:9.7px;height:100%;background:linear-gradient(90deg,#fef5f4,#fdeaea 30%,#fdeaea 70%,#fef5f4)"></div>
<div class="ab" style="left:425.30px;top:0;width:9.7px;height:100%;background:linear-gradient(90deg,#fef5f4,#fdeaea 30%,#fdeaea 70%,#fef5f4)"></div>
<div class="ab" style="left:0;top:16.20px;width:100%;height:0.9px;background:#ebebeb"></div>
<div class="ab" style="left:0;top:29.54px;width:100%;height:0.9px;background:#ebebeb"></div>
<div class="ab" style="left:0;top:42.88px;width:100%;height:0.9px;background:#ebebeb"></div>
<div class="ab" style="left:0;top:56.22px;width:100%;height:0.9px;background:#ebebeb"></div>
<div class="ab" style="left:0;top:69.56px;width:100%;height:0.9px;background:#ebebeb"></div>
<div class="ab" style="left:0;top:82.90px;width:100%;height:0.9px;background:#ebebeb"></div>
<div class="ab" style="left:0;top:96.24px;width:100%;height:0.9px;background:#ebebeb"></div>
<div class="ab" style="left:0;top:109.58px;width:100%;height:0.9px;background:#ebebeb"></div>
<div class="ab" style="left:0;top:122.92px;width:100%;height:0.9px;background:#ebebeb"></div>
<div class="ab" style="left:0;top:136.26px;width:100%;height:0.9px;background:#ebebeb"></div>
<div class="ab" style="left:0;top:149.60px;width:100%;height:0.9px;background:#ebebeb"></div>
<div class="ab" style="left:0;top:162.94px;width:100%;height:0.9px;background:#ebebeb"></div>
<div class="ab" style="left:0;top:176.28px;width:100%;height:0.9px;background:#ebebeb"></div>
<div class="ab" style="left:0;top:189.62px;width:100%;height:0.9px;background:#ebebeb"></div>
<div class="ab" style="left:0;top:202.96px;width:100%;height:0.9px;background:#ebebeb"></div>
<div class="ab" style="left:28.70px;top:0;width:1px;height:100%;background:repeating-linear-gradient(#5e4c58 0 3.6px,transparent 3.6px 6.5px)"></div>
<div class="ab" style="left:20.30px;top:8.50px;width:75.70px;height:7.3px;background:#f05f20;border:1px solid #3e3a30;border-right:none;"></div>
<div class="ab" style="left:95.10px;top:8.50px;width:30.50px;height:7.3px;background:#96d176;border:1px solid #3e3a30;border-right:none;"></div>
<div class="ab" style="left:124.70px;top:8.50px;width:20.50px;height:7.3px;background:#96d176;border:1px solid #3e3a30;border-right:none;"></div>
<div class="ab" style="left:144.30px;top:8.50px;width:51.80px;height:7.3px;background:#96d176;border:1px solid #3e3a30;border-right:none;"></div>
<div class="ab" style="left:195.20px;top:8.50px;width:109.40px;height:7.3px;background:#96d176;border:1px solid #3e3a30;border-right:1px solid #3e3a30;"></div>
<div class="ab" style="left:314.40px;top:8.50px;width:21.50px;height:7.3px;background:#f5b828;border:1px solid #3e3a30;border-right:none;"></div>
<div class="ab" style="left:335.00px;top:8.50px;width:19.70px;height:7.3px;background:#f05f20;border:1px solid #3e3a30;border-right:none;"></div>
<div class="ab" style="left:353.80px;top:8.50px;width:7.50px;height:7.3px;background:#96d176;border:1px solid #3e3a30;border-right:1px solid #3e3a30;"></div>
<div class="ab" style="left:20.30px;top:21.80px;width:75.70px;height:7.3px;background:#f05f20;border:1px solid #3e3a30;border-right:none;"></div>
<div class="ab" style="left:95.10px;top:21.80px;width:49.20px;height:7.3px;background:#96d176;border:1px solid #3e3a30;border-right:1px solid #3e3a30;"></div>
<div class="ab" style="left:124.70px;top:35.10px;width:71.40px;height:7.3px;background:#96d176;border:1px solid #3e3a30;border-right:none;"></div>
<div class="ab" style="left:195.20px;top:35.10px;width:109.40px;height:7.3px;background:#96d176;border:1px solid #3e3a30;border-right:1px solid #3e3a30;"></div>
<div class="ab" style="left:314.40px;top:48.40px;width:21.50px;height:7.3px;background:#f5b828;border:1px solid #3e3a30;border-right:none;"></div>
<div class="ab" style="left:335.00px;top:48.40px;width:19.70px;height:7.3px;background:#f05f20;border:1px solid #3e3a30;border-right:none;"></div>
<div class="ab" style="left:353.80px;top:48.40px;width:7.50px;height:7.3px;background:#96d176;border:1px solid #3e3a30;border-right:1px solid #3e3a30;"></div>
<div class="ab" style="left:243.90px;top:61.70px;width:71.40px;height:7.3px;background:#96d176;border:1px solid #3e3a30;border-right:none;"></div>
<div class="ab" style="left:314.40px;top:61.70px;width:21.50px;height:7.3px;background:#f5b828;border:1px solid #3e3a30;border-right:none;"></div>
<div class="ab" style="left:335.00px;top:61.70px;width:19.70px;height:7.3px;background:#f05f20;border:1px solid #3e3a30;border-right:none;"></div>
<div class="ab" style="left:353.80px;top:61.70px;width:8.40px;height:7.3px;background:#96d176;border:1px solid #3e3a30;border-right:none;"></div>
<div class="ab" style="left:361.30px;top:61.70px;width:52.70px;height:7.3px;background:#96d176;border:1px solid #3e3a30;border-right:1px solid #3e3a30;"></div>
<div class="ab" style="left:243.90px;top:75.00px;width:170.10px;height:7.3px;background:#96d176;border:1px solid #3e3a30;border-right:1px solid #3e3a30;"></div>
<div class="ab" style="left:314.40px;top:88.30px;width:21.50px;height:7.3px;background:#96d176;border:1px solid #3e3a30;border-right:none;"></div>
<div class="ab" style="left:335.00px;top:88.30px;width:19.70px;height:7.3px;background:#f05f20;border:1px solid #3e3a30;border-right:none;"></div>
<div class="ab" style="left:353.80px;top:88.30px;width:7.50px;height:7.3px;background:#96d176;border:1px solid #3e3a30;border-right:1px solid #3e3a30;"></div>
<div class="ab" style="left:144.30px;top:101.60px;width:100.40px;height:7.3px;background:#96d176;border:1px solid #3e3a30;border-right:none;"></div>
<div class="ab" style="left:243.80px;top:101.60px;width:42.20px;height:7.3px;background:#96d176;border:1px solid #3e3a30;border-right:none;"></div>
<div class="ab" style="left:285.10px;top:101.60px;width:30.10px;height:7.3px;background:#96d176;border:1px solid #3e3a30;border-right:none;"></div>
<div class="ab" style="left:314.30px;top:101.60px;width:21.60px;height:7.3px;background:#f5b828;border:1px solid #3e3a30;border-right:none;"></div>
<div class="ab" style="left:335.00px;top:101.60px;width:19.70px;height:7.3px;background:#f05f20;border:1px solid #3e3a30;border-right:none;"></div>
<div class="ab" style="left:353.80px;top:101.60px;width:8.50px;height:7.3px;background:#96d176;border:1px solid #3e3a30;border-right:none;"></div>
<div class="ab" style="left:361.40px;top:101.60px;width:27.70px;height:7.3px;background:#96d176;border:1px solid #3e3a30;border-right:none;"></div>
<div class="ab" style="left:388.20px;top:101.60px;width:25.80px;height:7.3px;background:#96d176;border:1px solid #3e3a30;border-right:1px solid #3e3a30;"></div>
<div class="ab" style="left:25.20px;top:114.90px;width:24.70px;height:7.3px;background:#f5b828;border:1px solid #3e3a30;border-right:1px solid #3e3a30;"></div>
<div class="ab" style="left:124.00px;top:114.90px;width:120.70px;height:7.3px;background:#f5b828;border:1px solid #3e3a30;border-right:none;"></div>
<div class="ab" style="left:243.80px;top:114.90px;width:61.10px;height:7.3px;background:#96d176;border:1px solid #3e3a30;border-right:none;"></div>
<div class="ab" style="left:304.00px;top:114.90px;width:11.20px;height:7.3px;background:#96d176;border:1px solid #3e3a30;border-right:none;"></div>
<div class="ab" style="left:314.30px;top:114.90px;width:21.60px;height:7.3px;background:#f5b828;border:1px solid #3e3a30;border-right:none;"></div>
<div class="ab" style="left:335.00px;top:114.90px;width:19.70px;height:7.3px;background:#f05f20;border:1px solid #3e3a30;border-right:none;"></div>
<div class="ab" style="left:353.80px;top:114.90px;width:8.50px;height:7.3px;background:#96d176;border:1px solid #3e3a30;border-right:none;"></div>
<div class="ab" style="left:361.40px;top:114.90px;width:52.60px;height:7.3px;background:#96d176;border:1px solid #3e3a30;border-right:1px solid #3e3a30;"></div>
<div class="ab" style="left:20.30px;top:128.20px;width:6.50px;height:7.3px;background:#f5b828;border:1px solid #3e3a30;border-right:none;"></div>
<div class="ab" style="left:25.90px;top:128.20px;width:46.80px;height:7.3px;background:#f05f20;border:1px solid #3e3a30;border-right:none;"></div>
<div class="ab" style="left:71.80px;top:128.20px;width:26.60px;height:7.3px;background:#f5b828;border:1px solid #3e3a30;border-right:1px solid #3e3a30;"></div>
<div class="ab" style="left:124.00px;top:128.20px;width:72.70px;height:7.3px;background:#f5b828;border:1px solid #3e3a30;border-right:1px solid #3e3a30;"></div>
<div class="ab" style="left:243.80px;top:128.20px;width:42.20px;height:7.3px;background:#96d176;border:1px solid #3e3a30;border-right:none;"></div>
<div class="ab" style="left:285.10px;top:128.20px;width:30.10px;height:7.3px;background:#96d176;border:1px solid #3e3a30;border-right:none;"></div>
<div class="ab" style="left:314.30px;top:128.20px;width:21.60px;height:7.3px;background:#96d176;border:1px solid #3e3a30;border-right:none;"></div>
<div class="ab" style="left:335.00px;top:128.20px;width:19.70px;height:7.3px;background:#f05f20;border:1px solid #3e3a30;border-right:none;"></div>
<div class="ab" style="left:353.80px;top:128.20px;width:8.50px;height:7.3px;background:#96d176;border:1px solid #3e3a30;border-right:none;"></div>
<div class="ab" style="left:361.40px;top:128.20px;width:27.70px;height:7.3px;background:#96d176;border:1px solid #3e3a30;border-right:none;"></div>
<div class="ab" style="left:388.20px;top:128.20px;width:25.80px;height:7.3px;background:#96d176;border:1px solid #3e3a30;border-right:1px solid #3e3a30;"></div>
<div class="ab" style="left:124.00px;top:141.50px;width:21.20px;height:7.3px;background:#f5b828;border:1px solid #3e3a30;border-right:none;"></div>
<div class="ab" style="left:144.30px;top:141.50px;width:51.80px;height:7.3px;background:#96d176;border:1px solid #3e3a30;border-right:none;"></div>
<div class="ab" style="left:195.20px;top:141.50px;width:49.50px;height:7.3px;background:#96d176;border:1px solid #3e3a30;border-right:none;"></div>
<div class="ab" style="left:243.80px;top:141.50px;width:73.10px;height:7.3px;background:#f05f20;border:1px solid #3e3a30;border-right:none;"></div>
<div class="ab" style="left:316.00px;top:141.50px;width:19.90px;height:7.3px;background:#96d176;border:1px solid #3e3a30;border-right:none;"></div>
<div class="ab" style="left:335.00px;top:141.50px;width:19.70px;height:7.3px;background:#f05f20;border:1px solid #3e3a30;border-right:none;"></div>
<div class="ab" style="left:353.80px;top:141.50px;width:8.50px;height:7.3px;background:#96d176;border:1px solid #3e3a30;border-right:none;"></div>
<div class="ab" style="left:361.40px;top:141.50px;width:52.60px;height:7.3px;background:#96d176;border:1px solid #3e3a30;border-right:1px solid #3e3a30;"></div>
<div class="ab" style="left:124.00px;top:154.80px;width:72.70px;height:7.3px;background:#96d176;border:1px solid #3e3a30;border-right:1px solid #3e3a30;"></div>
<div class="ab" style="left:144.30px;top:168.10px;width:100.40px;height:7.3px;background:#96d176;border:1px solid #3e3a30;border-right:none;"></div>
<div class="ab" style="left:243.80px;top:168.10px;width:73.10px;height:7.3px;background:#f05f20;border:1px solid #3e3a30;border-right:none;"></div>
<div class="ab" style="left:316.00px;top:168.10px;width:98.00px;height:7.3px;background:#96d176;border:1px solid #3e3a30;border-right:1px solid #3e3a30;"></div>
<div class="ab" style="left:314.30px;top:181.40px;width:21.60px;height:7.3px;background:#96d176;border:1px solid #3e3a30;border-right:none;"></div>
<div class="ab" style="left:335.00px;top:181.40px;width:19.70px;height:7.3px;background:#f05f20;border:1px solid #3e3a30;border-right:none;"></div>
<div class="ab" style="left:353.80px;top:181.40px;width:7.60px;height:7.3px;background:#96d176;border:1px solid #3e3a30;border-right:1px solid #3e3a30;"></div>
</div>
<div class="ab" style="left:625.3px;top:80px;width:9.00px;height:194.60px;background:#dcdcdc;border-left:1px solid #b0b0b0;"></div>
<div class="ab" style="left:625.6px;top:80.5px;width:8.40px;height:8.30px;background:#fff;border:1px solid #999;"></div>
<div class="ab" style="left:627.8px;top:83.2px;width:0;height:0;border-bottom:3px solid #333;border-left:2.2px solid transparent;border-right:2.2px solid transparent"></div>
<div class="ab" style="left:625.6px;top:88.8px;width:8.40px;height:18.80px;background:linear-gradient(90deg,#9bb8e0,#7fa2d6);border:1px solid #7b9acb;"></div>
<div class="ab" style="left:625.6px;top:266.6px;width:8.40px;height:7.80px;background:#fff;border:1px solid #999;"></div>
<div class="ab" style="left:627.8px;top:269.4px;width:0;height:0;border-top:3px solid #333;border-left:2.2px solid transparent;border-right:2.2px solid transparent"></div>
<div class="ab" style="left:61px;top:274.6px;width:158.60px;height:9.70px;background:#dbd9d8;border-top:1px solid #b4b4b4;"></div>
<div class="ab" style="left:62.6px;top:275px;width:8.00px;height:8.60px;background:#fff;border:1px solid #999;"></div>
<div class="ab" style="left:65.2px;top:277.3px;width:0;height:0;border-right:3px solid #333;border-top:2.2px solid transparent;border-bottom:2.2px solid transparent"></div>
<div class="ab" style="left:210.4px;top:275px;width:8.40px;height:8.60px;background:#fff;border:1px solid #999;"></div>
<div class="ab" style="left:213.6px;top:277.3px;width:0;height:0;border-left:3px solid #333;border-top:2.2px solid transparent;border-bottom:2.2px solid transparent"></div>
<div class="ab" style="left:219.6px;top:274.6px;width:6.40px;height:9.70px;background:#b9d9eb;"></div>
<div class="ab" style="left:226px;top:274.6px;width:399.30px;height:9.70px;background:#dbd9d8;border-top:1px solid #b4b4b4;"></div>
<div class="ab" style="left:226px;top:275px;width:10.20px;height:8.80px;background:#fff;border:1px solid #999;"></div>
<div class="ab" style="left:229.5px;top:277.3px;width:0;height:0;border-right:3px solid #333;border-top:2.2px solid transparent;border-bottom:2.2px solid transparent"></div>
<div class="ab" style="left:235.5px;top:275px;width:95.50px;height:8.80px;background:linear-gradient(#98b6e4,#7b9fd6);border:1px solid #6f92c6;"></div>
<div class="ab" style="left:281.5px;top:277.5px;width:0.80px;height:4.00px;background:#5b7fb5;"></div>
<div class="ab" style="left:283.5px;top:277.5px;width:0.80px;height:4.00px;background:#5b7fb5;"></div>
<div class="ab" style="left:285.5px;top:277.5px;width:0.80px;height:4.00px;background:#5b7fb5;"></div>
<div class="ab" style="left:615.1px;top:275px;width:9.40px;height:8.80px;background:#fff;border:1px solid #999;"></div>
<div class="ab" style="left:618.8px;top:277.3px;width:0;height:0;border-left:3px solid #111;border-top:2.3px solid transparent;border-bottom:2.3px solid transparent"></div>
<div class="ab" style="left:625.3px;top:274.6px;width:9.00px;height:9.70px;background:#fff;"></div>
<div class="ab" style="left:61px;top:284px;width:573.30px;height:13.40px;background:linear-gradient(#daf0fc,#c2e4f8);border-top:1px solid #98adbd;border-bottom:1px solid #9fb9cb;"></div>
<div class="t" style="left:64.02px;top:287.00px;font-size:7px;font-weight:bold;color:#2a5785;transform:scaleX(1.0072);transform-origin:0 0;">Graphics</div>
<svg class="ab" style="left:625.6px;top:287.6px" width="7" height="7" viewBox="0 0 7 7"><path d="M1 1 L3.5 3.2 L6 1 M1 3.8 L3.5 6 L6 3.8" fill="none" stroke="#8fb4d2" stroke-width="1"/></svg>
<div class="ab" style="left:61px;top:297.4px;width:37.90px;height:113.60px;background:linear-gradient(90deg,#d9eef9,#c4e1f3 40%,#c4e1f3);border-right:1px solid #93b3cb;"></div>
<div class="ab" style="left:61px;top:297.4px;width:37.90px;height:20.90px;background:linear-gradient(#eef8fd,#e2f2fb);border-bottom:1px solid #a9c8dc;border-left:1px solid #fff;"></div>
<div class="t" style="left:73.23px;top:305.00px;font-size:7.2px;font-weight:bold;color:#2a3a4e;transform:scaleX(1.0779);transform-origin:0 0;">Load</div>
<div class="ab" style="left:99.5px;top:297.4px;width:117.00px;height:113.10px;background:#e8e7e6;"></div>
<div class="ab" style="left:216.5px;top:297.4px;width:5.50px;height:113.10px;background:#fff;"></div>
<div class="ab" style="left:221.8px;top:297.4px;width:0.80px;height:111.20px;background:#e2e2e2;"></div>
<div class="ab" style="left:115.7px;top:329.7px;width:83.50px;height:56.30px;background:#fff;border:1px solid #4a4a4a;"></div>
<div class="ab" style="left:121px;top:338.1px;width:15.90px;height:5.60px;background:#ea561f;box-shadow:inset 0 0 0 0.5px #c04a20;"></div>
<div class="ab" style="left:121px;top:349.4px;width:15.90px;height:5.40px;background:#f2b631;"></div>
<div class="ab" style="left:121px;top:362.5px;width:15.90px;height:1.50px;background:#111;"></div>
<div class="ab" style="left:121px;top:372.9px;width:15.90px;height:6.10px;background:#93cf72;"></div>
<div class="t" style="left:141.93px;top:337.00px;font-size:7.4px;color:#2e2e2e;transform:scaleX(1.0544);transform-origin:0 0;">Overload</div>
<div class="t" style="left:141.65px;top:349.00px;font-size:7.4px;color:#2e2e2e;transform:scaleX(1.0691);transform-origin:0 0;">Load 100%</div>
<div class="t" style="left:142.13px;top:360.00px;font-size:7.4px;color:#2e2e2e;transform:scaleX(1.0453);transform-origin:0 0;">Total capability</div>
<div class="t" style="left:142.28px;top:372.00px;font-size:7.4px;color:#2e2e2e;transform:scaleX(1.0541);transform-origin:0 0;">Assigned load</div>
<svg class="ab" style="left:0;top:0" width="640" height="414" viewBox="0 0 640 414"><line x1="233.2" y1="330" x2="233.2" y2="400.5" stroke="#ccc" stroke-width="0.7"/><line x1="231" y1="368.3" x2="238" y2="368.3" stroke="#bbb" stroke-width="0.6"/><line x1="231" y1="337.3" x2="238" y2="337.3" stroke="#bbb" stroke-width="0.6"/><polygon points="242.60,400.2 242.60,383.80 258.00,383.80 258.00,366.50 268.70,366.50 268.70,400.2" fill="#93cf72"/><polyline points="242.60,383.80 258.00,383.80 258.00,366.50 268.70,366.50" fill="none" stroke="#7fb85e" stroke-width="0.8"/><rect x="258.00" y="315.40" width="10.70" height="8.80" fill="#ef5a1e"/><polygon points="278.74,400.2 278.74,370.50 283.54,370.50 283.54,372.00 285.44,372.00 285.44,375.30 304.84,375.30 304.84,400.2" fill="#93cf72"/><polyline points="278.74,370.50 283.54,370.50 283.54,372.00 285.44,372.00 285.44,375.30 304.84,375.30" fill="none" stroke="#7fb85e" stroke-width="0.8"/><rect x="278.74" y="315.40" width="26.10" height="8.80" fill="#ef5a1e"/><polygon points="314.88,400.2 314.88,383.80 324.18,383.80 324.18,385.60 328.88,385.60 328.88,387.80 330.88,387.80 330.88,396.30 340.98,396.30 340.98,400.2" fill="#93cf72"/><polyline points="314.88,383.80 324.18,383.80 324.18,385.60 328.88,385.60 328.88,387.80 330.88,387.80 330.88,396.30 340.98,396.30" fill="none" stroke="#7fb85e" stroke-width="0.8"/><polygon points="351.02,400.2 351.02,396.40 356.42,396.40 356.42,370.90 377.12,370.90 377.12,400.2" fill="#93cf72"/><polyline points="351.02,396.40 356.42,396.40 356.42,370.90 377.12,370.90" fill="none" stroke="#7fb85e" stroke-width="0.8"/><polygon points="387.16,400.2 387.16,368.50 413.26,368.50 413.26,400.2" fill="#93cf72"/><polyline points="387.16,368.50 413.26,368.50" fill="none" stroke="#7fb85e" stroke-width="0.8"/><polygon points="423.30,400.2 423.30,368.50 428.10,368.50 428.10,385.50 449.40,385.50 449.40,400.2" fill="#93cf72"/><polyline points="423.30,368.50 428.10,368.50 428.10,385.50 449.40,385.50" fill="none" stroke="#7fb85e" stroke-width="0.8"/><polygon points="459.44,400.2 459.44,385.80 475.24,385.80 475.24,376.00 480.74,376.00 480.74,371.30 485.54,371.30 485.54,400.2" fill="#93cf72"/><polyline points="459.44,385.80 475.24,385.80 475.24,376.00 480.74,376.00 480.74,371.30 485.54,371.30" fill="none" stroke="#7fb85e" stroke-width="0.8"/><rect x="479.94" y="331.00" width="5.60" height="1.60" fill="#ef5a1e"/><polygon points="495.58,400.2 495.58,372.20 516.88,372.20 516.88,370.30 521.68,370.30 521.68,400.2" fill="#93cf72"/><polyline points="495.58,372.20 516.88,372.20 516.88,370.30 521.68,370.30" fill="none" stroke="#7fb85e" stroke-width="0.8"/><rect x="495.58" y="330.90" width="26.10" height="1.70" fill="#ef5a1e"/><polygon points="531.72,400.2 531.72,369.30 536.92,369.30 536.92,378.00 546.92,378.00 546.92,349.40 551.92,349.40 551.92,351.90 557.82,351.90 557.82,400.2" fill="#93cf72"/><polyline points="531.72,369.30 536.92,369.30 536.92,378.00 546.92,378.00 546.92,349.40 551.92,349.40 551.92,351.90 557.82,351.90" fill="none" stroke="#7fb85e" stroke-width="0.8"/><rect x="531.72" y="331.00" width="15.00" height="1.60" fill="#ef5a1e"/><polygon points="567.86,400.2 567.86,332.60 584.26,332.60 584.26,339.50 588.66,339.50 588.66,361.00 593.96,361.00 593.96,400.2" fill="#93cf72"/><polyline points="567.86,332.60 584.26,332.60 584.26,339.50 588.66,339.50 588.66,361.00 593.96,361.00" fill="none" stroke="#7fb85e" stroke-width="0.8"/><rect x="567.86" y="310.00" width="15.00" height="22.60" fill="#ef5a1e"/><rect x="582.86" y="322.90" width="5.80" height="9.70" fill="#ef5a1e"/><polygon points="604.00,400.2 604.00,386.30 618.30,386.30 618.30,389.00 624.00,389.00 624.00,390.00 630.10,390.00 630.10,400.2" fill="#93cf72"/><polyline points="604.00,386.30 618.30,386.30 618.30,389.00 624.00,389.00 624.00,390.00 630.10,390.00" fill="none" stroke="#7fb85e" stroke-width="0.8"/><polyline points="241,400.2 242.60,400.2 242.60,324.2 268.70,324.2 268.70,400.2 278.74,400.2 278.74,324.2 304.84,324.2 304.84,400.2 314.88,400.2 314.88,324.2 340.98,324.2 340.98,400.2 351.02,400.2 351.02,332.6 377.12,332.6 377.12,400.2 387.16,400.2 387.16,332.6 413.26,332.6 413.26,400.2 423.30,400.2 423.30,332.6 449.40,332.6 449.40,400.2 459.44,400.2 459.44,332.6 485.54,332.6 485.54,400.2 495.58,400.2 495.58,332.6 521.68,332.6 521.68,400.2 531.72,400.2 531.72,332.6 557.82,332.6 557.82,400.2 567.86,400.2 567.86,332.6 593.96,332.6 593.96,400.2 604.00,400.2 604.00,332.6 630.10,332.6 630.10,400.2 634,400.2" fill="none" stroke="#1a1a1a" stroke-width="1.2"/><rect x="567.1" y="331.5" width="16.3" height="1.4" fill="#fff"/><rect x="567.2" y="332.9" width="1.9" height="66.7" fill="#93cf72"/></svg>
<div class="t" style="left:234.05px;top:331.00px;font-size:5.6px;font-weight:bold;color:#111;transform:scaleX(1.2767);transform-origin:0 0;">60</div>
<div class="t" style="left:234.14px;top:363.00px;font-size:5.6px;font-weight:bold;color:#111;transform:scaleX(1.2615);transform-origin:0 0;">30</div>
<div class="ab" style="left:222.5px;top:407.7px;width:411.90px;height:0.80px;background:#d8d8d8;"></div>
<div class="ab" style="left:222.5px;top:408.5px;width:411.90px;height:1.90px;background:#f6f6f6;"></div>
<div class="ab" style="left:633.8px;top:297px;width:0.70px;height:114.00px;background:#d0d0d0;"></div>
</body></html>
